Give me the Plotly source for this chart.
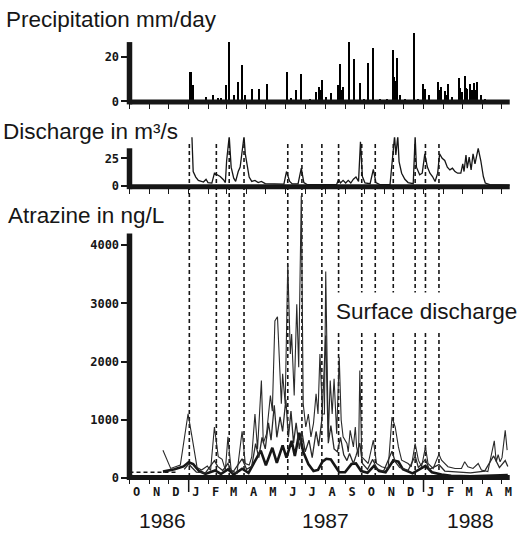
import pandas as pd
import plotly.graph_objects as go

# ---------------- data (day index counted from 1 Oct 1986) ----------------
START = pd.Timestamp("1986-10-01")
END = pd.Timestamp("1988-05-14")

precip_day = [96, 100, 120, 131, 138, 143, 151, 156, 163, 170, 176, 180, 191, 202, 215,
              246, 252, 260, 267, 281, 291, 295, 298, 300, 306, 314, 325, 328, 330, 333,
              342, 350, 359, 365, 372, 379, 391, 401, 410, 411, 412, 413, 415, 417, 421,
              430, 444, 449, 457, 461, 466, 480, 482, 485, 491, 494, 496, 503, 513, 515,
              518, 522, 524, 526, 531, 534, 537, 540, 542, 547, 553, 568]
precip_mm = [13.3, 7.3, 2, 2.7, 1.5, 1.5, 7.3, 26.7, 3, 8.8, 16, 3, 5.3, 5.3, 7.7,
             12.9, 1.5, 5, 12.3, 1, 4.2, 6.2, 5, 9.5, 2, 3.7, 7.3, 16.7, 5, 6.5,
             26.7, 19, 8.4, 1, 17.3, 23.8, 1, 1, 22.7, 12, 10, 11, 9, 19.4, 3,
             1, 30.4, 1, 7.8, 5.3, 3, 8.8, 5, 6.5, 4.5, 3, 7.6, 2, 10.6, 6,
             4, 11.4, 6, 5.5, 7.6, 5, 8, 5, 8.5, 3, 1, 0.8]

discharge_day = [97, 99, 103, 107, 115, 119, 122, 128, 132, 136,
                 141, 146, 149, 151, 155, 158, 162, 165, 169, 172,
                 175, 178, 180, 183, 186, 190, 195, 200, 205, 211,
                 225, 240, 244, 249, 253, 262, 267, 271, 276, 300,
                 322, 325, 328, 332, 336, 340, 344, 348, 352, 356,
                 359, 362, 366, 374, 379, 383, 389, 405, 408, 410,
                 412, 414, 417, 419, 423, 428, 433, 441, 444, 446,
                 451, 455, 459, 463, 467, 471, 475, 479, 482, 486,
                 490, 494, 498, 502, 506, 510, 515, 518, 520, 523,
                 525, 528, 531, 534, 537, 542, 546, 550, 553, 560,
                 591]
discharge_m3s = [45, 13, 8, 5, 3.5, 6, 3, 2.5, 11.5, 10,
                 8.5, 5.6, 3, 23, 45, 17, 7, 4, 13, 17,
                 32, 45, 29, 17, 8, 4, 5, 3, 4, 2,
                 1.5, 1.5, 13, 4, 1.8, 1.8, 16, 3, 1.2, 1.2,
                 1.3, 6, 2.6, 5, 2.6, 5, 2.6, 6, 8, 4,
                 40, 8.5, 2.6, 2, 15, 3, 1.2, 1.3, 23, 32,
                 45, 28, 45, 22, 11.5, 6, 3, 2, 45, 17,
                 10, 11.5, 29, 17, 11.5, 8.5, 4, 11.5, 29, 25,
                 23, 17, 14.5, 16, 13, 11.5, 11.5, 20, 13, 28,
                 16, 26, 14.5, 29, 20, 34, 23, 8.5, 2.6, 1.2,
                 0.6]

atz_surface_day = [52, 64, 79, 91, 98, 105, 112, 121, 126, 132,
                   138, 144, 149, 153, 158, 167, 175, 180, 186, 190,
                   195, 199, 205, 208, 213, 219, 222, 226, 230, 234,
                   236, 238, 242, 246, 250, 252, 256, 260, 263, 267,
                   270, 274, 278, 282, 286, 290, 293, 296, 300, 303,
                   305, 309, 312, 315, 318, 322, 326, 329, 332, 338,
                   340, 343, 348, 351, 353, 356, 358, 361, 366, 371,
                   379, 384, 392, 402, 408, 413, 418, 423, 433, 438,
                   444, 449, 454, 460, 464, 472, 481, 485, 495, 506,
                   516, 521, 526, 534, 542, 547, 557, 567, 570, 573,
                   576, 579, 584, 587]
atz_surface_ngl = [478, 165, 222, 1105, 650, 182, 137, 205, 130, 877,
                   365, 320, 137, 707, 137, 80, 803, 250, 222, 365,
                   1100, 500, 1675, 600, 760, 1419, 1150, 2700, 2770, 1675,
                   1276, 1790, 1276, 3670, 2130, 2473, 1419, 2986, 1903, 4850,
                   1276, 877, 1100, 707, 940, 1447, 1100, 2131, 1100, 1100,
                   3550, 707, 1675, 1100, 1705, 763, 2074, 1000, 707, 593,
                   450, 820, 535, 877, 535, 365, 1846, 365, 307, 250,
                   650, 250, 194, 165, 1048, 877, 535, 307, 250, 194,
                   593, 307, 194, 535, 250, 165, 410, 307, 194, 165,
                   165, 280, 194, 165, 250, 137, 110, 640, 280, 400,
                   280, 350, 820, 480]

atz_mid_day = [85, 92, 97, 104, 118, 132, 137, 145, 153, 160,
               175, 182, 190, 196, 201, 206, 211, 216, 220, 225,
               229, 234, 238, 243, 247, 251, 255, 259, 264, 268,
               273, 279, 284, 290, 294, 299, 305, 309, 313, 318,
               323, 328, 333, 338, 342, 348, 352, 358, 362, 370,
               378, 385, 395, 408, 413, 420, 433, 444, 449, 460,
               466, 481, 490, 510, 530, 552, 566, 575, 584, 588]
atz_mid_ngl = [150, 240, 180, 100, 90, 300, 200, 130, 250, 90,
               330, 150, 200, 590, 350, 700, 500, 950, 650, 1250,
               700, 1050, 800, 1350, 700, 1150, 600, 950, 500, 800,
               450, 650, 350, 800, 550, 1000, 2450, 600, 900, 500,
               450, 700, 400, 300, 420, 250, 380, 600, 250, 150,
               320, 150, 120, 460, 280, 180, 130, 380, 180, 320,
               150, 230, 120, 100, 90, 120, 380, 180, 300, 200]

atz_base_day = [52, 70, 84, 92, 99, 108, 118, 133, 142, 153,
                162, 175, 185, 196, 204, 212, 222, 229, 238, 244,
                252, 257, 264, 270, 278, 286, 293, 300, 306, 313,
                320, 326, 335, 345, 352, 360, 370, 380, 388, 398,
                410, 418, 425, 440, 460, 470, 485, 500, 530, 560,
                588]
atz_base_ngl = [110, 150, 200, 270, 240, 120, 70, 130, 70, 150,
                60, 160, 90, 300, 470, 220, 520, 260, 560, 350,
                640, 380, 780, 450, 240, 120, 140, 280, 330, 320,
                200, 100, 100, 240, 250, 120, 90, 210, 120, 100,
                300, 280, 150, 80, 210, 100, 60, 40, 30, 40,
                50]

limit_ngl = 100
limit_days = [0, 75]
event_day = [93, 135, 155, 178, 246, 268, 299, 325, 361, 382, 410, 444, 460, 481]

month_letters = ["O", "N", "D", "J", "F", "M", "A", "M", "J", "J",
                 "A", "S", "O", "N", "D", "J", "F", "M", "A", "M"]
year_labels = ["1986", "1987", "1988"]
year_label_day = [52, 305, 530]
year_start_day = [92, 457]

precip_ticks = [0, 20]
discharge_ticks = [0, 25]
atz_ticks = [0, 1000, 2000, 3000, 4000]


def to_dates(days):
    return START + pd.to_timedelta(pd.Series(days, dtype=float), unit="D")


month_starts = pd.date_range(START, periods=20, freq="MS")
month_label_pos = month_starts + pd.Timedelta(days=11)

# ---------------- styling helpers ----------------
REF_W, REF_H = 518, 535   # reference picture size; positions below are in its pixels
W, H = 518, 543           # figure size (the page view is a little taller than the picture)
INK = "#161616"


def px_x(p):
    return p / REF_W


def px_y(p):
    return 1 - p / REF_H


TITLE_FONT = dict(family="Liberation Sans, Arial, sans-serif", size=22.5, color=INK)
TICK_FONT = dict(family="DejaVu Sans Mono, monospace", size=12, color=INK, weight="bold")
X_LEFT, X_RIGHT = 130, 511.7
X_DOMAIN = [px_x(X_LEFT), px_x(X_RIGHT)]

fig = go.Figure()

fig.add_trace(go.Bar(x=to_dates(precip_day), y=precip_mm, width=2.4 * 86400000,
                     marker=dict(color="#000000", line=dict(width=0)), xaxis="x", yaxis="y"))
fig.add_trace(go.Scatter(x=to_dates(discharge_day), y=discharge_m3s, mode="lines",
                         line=dict(color=INK, width=1.3), xaxis="x2", yaxis="y2"))
fig.add_trace(go.Scatter(x=to_dates(limit_days), y=[limit_ngl] * len(limit_days), mode="lines",
                         line=dict(color=INK, width=1.4, dash="4px,3px"), xaxis="x3", yaxis="y3"))
fig.add_trace(go.Scatter(x=to_dates(atz_base_day), y=atz_base_ngl, mode="lines",
                         line=dict(color=INK, width=2.6), xaxis="x3", yaxis="y3"))
fig.add_trace(go.Scatter(x=to_dates(atz_mid_day), y=atz_mid_ngl, mode="lines",
                         line=dict(color="#2a2a2a", width=1.3), xaxis="x3", yaxis="y3"))
fig.add_trace(go.Scatter(x=to_dates(atz_surface_day), y=atz_surface_ngl, mode="lines",
                         line=dict(color="#2a2a2a", width=1.1), xaxis="x3", yaxis="y3"))


def yax(bottom_px, top_px, rng, ticks):
    return dict(domain=[px_y(bottom_px), px_y(top_px)], range=rng,
                tickmode="array", tickvals=ticks, ticktext=[str(t) for t in ticks],
                ticks="outside", ticklen=7, tickwidth=1.5, tickcolor=INK,
                showline=False, showgrid=False, zeroline=False,
                tickfont=TICK_FONT, fixedrange=True)


def xax(anchor, with_labels):
    d = dict(type="date", domain=X_DOMAIN, range=[START, END], anchor=anchor,
             showgrid=False, zeroline=False, showline=False, fixedrange=True)
    if with_labels:
        d.update(tickmode="array", tickvals=list(month_label_pos), ticktext=month_letters,
                 ticks="", tickfont=TICK_FONT, ticklabelstandoff=5,
                 minor=dict(tickmode="array", tickvals=list(month_starts), ticks="outside",
                            ticklen=5, tickwidth=1.3, tickcolor=INK))
    else:
        d.update(tickmode="array", tickvals=list(month_starts), ticks="outside",
                 ticklen=6, tickwidth=1.3, tickcolor=INK, showticklabels=False)
    return d


x1 = xax("y", False)
x2 = xax("y2", False)
x2["matches"] = "x"
x3 = xax("y3", True)
x3["matches"] = "x"

shapes = []
# thick axis bars (pixel extents: vertical bar top, horizontal bar level)
for top_px, base_px in [(42, 101.7), (148, 186.3), (233, 476.5)]:
    shapes.append(dict(type="line", xref="paper", yref="paper",
                       x0=px_x(X_LEFT), x1=px_x(X_LEFT), y0=px_y(base_px + 2.5), y1=px_y(top_px),
                       line=dict(color=INK, width=5.5)))
    shapes.append(dict(type="line", xref="paper", yref="paper",
                       x0=px_x(X_LEFT), x1=px_x(X_RIGHT), y0=px_y(base_px), y1=px_y(base_px),
                       line=dict(color=INK, width=5)))
# longer ticks at the year boundaries
for d in to_dates(year_start_day):
    shapes.append(dict(type="line", xref="x3", x0=d, x1=d, yref="paper", y0=px_y(491), y1=px_y(477),
                       line=dict(color=INK, width=1.5)))
# dashed event lines
for d in to_dates(event_day):
    shapes.append(dict(type="line", xref="x3", x0=d, x1=d, yref="paper", y0=px_y(476), y1=px_y(143),
                       line=dict(color=INK, width=1.6, dash="4px,3px"), layer="below"))

annotations = [
    dict(text="Precipitation mm/day", xref="paper", yref="paper", x=px_x(4), y=px_y(19),
         xanchor="left", yanchor="middle", showarrow=False, font=TITLE_FONT),
    dict(text="Discharge in m³/s", xref="paper", yref="paper", x=px_x(1), y=px_y(131),
         xanchor="left", yanchor="middle", showarrow=False, font=TITLE_FONT),
    dict(text="Atrazine in ng/L", xref="paper", yref="paper", x=px_x(6), y=px_y(215),
         xanchor="left", yanchor="middle", showarrow=False, font=TITLE_FONT),
    dict(text="Surface discharge", xref="paper", yref="paper", x=px_x(330), y=px_y(311),
         xanchor="left", yanchor="middle", showarrow=False, font=TITLE_FONT,
         bgcolor="white", borderpad=6),
]
for lab, d in zip(year_labels, to_dates(year_label_day)):
    annotations.append(dict(text=lab, xref="x3", yref="paper", x=d, y=px_y(520),
                            xanchor="center", yanchor="middle", showarrow=False,
                            font=dict(family="Liberation Sans, Arial, sans-serif", size=21, color=INK)))

fig.update_layout(
    width=W, height=H, margin=dict(l=0, r=0, t=0, b=0),
    paper_bgcolor="white", plot_bgcolor="white", showlegend=False, bargap=0,
    xaxis=x1, xaxis2=x2, xaxis3=x3,
    yaxis=yax(102, 33, [-0.36, 30.5], precip_ticks),
    yaxis2=yax(186.5, 137, [-0.9, 44.1], discharge_ticks),
    yaxis3=yax(477.5, 190, [-6, 4943], atz_ticks),
    shapes=shapes, annotations=annotations,
)

fig.write_html("out.html", config={"displayModeBar": False},
               post_script="document.body.style.margin='0';")
